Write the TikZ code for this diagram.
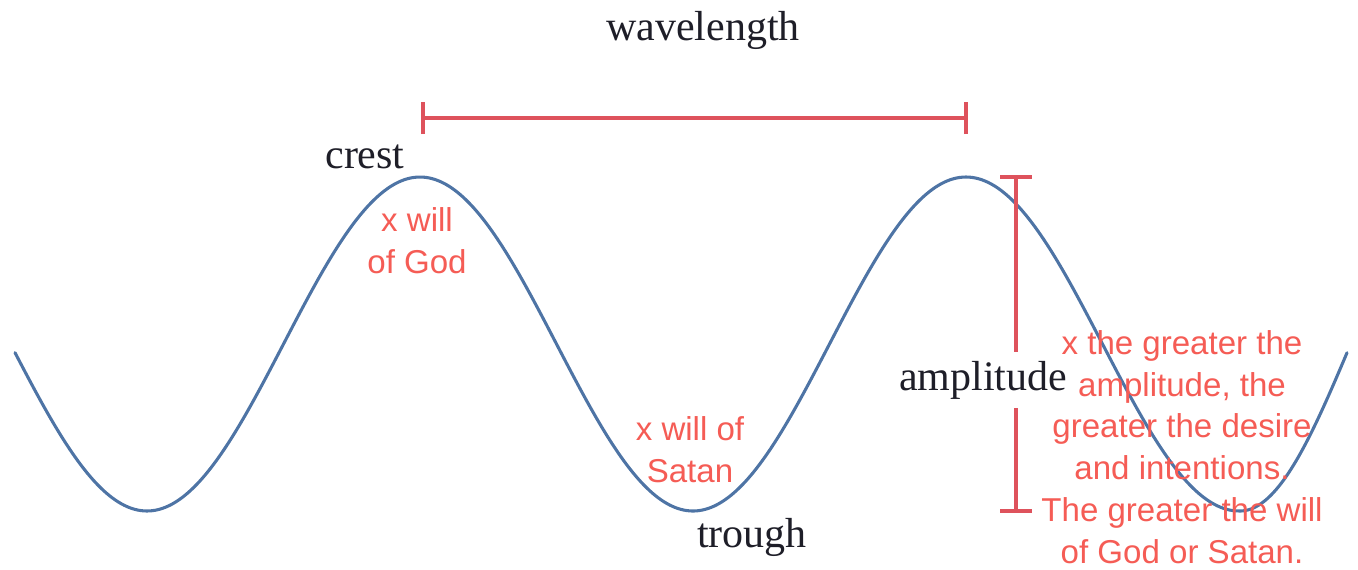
\documentclass[tikz,border=0pt]{standalone}
\usepackage{fontspec}
\setmainfont{Liberation Serif}
\newfontfamily\redfont{Liberation Sans}
\definecolor{waveblue}{RGB}{78,116,165}
\definecolor{barred}{RGB}{222,82,92}
\definecolor{notered}{RGB}{245,92,85}
\definecolor{labelink}{RGB}{30,30,40}
\begin{document}
\begin{tikzpicture}[x=0.75pt,y=-0.75pt,
  wave/.style={draw=waveblue,line width=2.3pt,line cap=round,line join=round},
  bar/.style={draw=barred,line width=2.7pt},
  blacklabel/.style={text=labelink,font=\fontsize{31.5}{36}\selectfont,inner sep=0pt},
  note/.style={text=notered,font=\redfont\fontsize{24.8}{31.3}\selectfont,align=center,inner sep=0pt}]
\useasboundingbox (0,0) rectangle (1358,569);
% wave
\draw[wave] plot[domain=15:1240,samples=220,smooth] (\x,{344-167*cos(0.659341*(\x-420))})
  -- plot[domain=1240:1347,samples=40,smooth] (\x,{344+167*cos(0.813084*(\x-1240))});
% wavelength bar
\coordinate (wlA) at (423,118);
\coordinate (wlB) at (966,118);
\draw[bar] (wlA) -- (wlB);
\draw[bar] ([yshift=-16*0.75pt]wlA) -- ([yshift=16*0.75pt]wlA);
\draw[bar] ([yshift=-16*0.75pt]wlB) -- ([yshift=16*0.75pt]wlB);
% amplitude bar
\node[blacklabel] (amp) at (983,380) {amplitude};
\coordinate (amTop) at (1016,177);
\coordinate (amBot) at (1016,511);
\coordinate (amGapT) at (1016,352);
\coordinate (amGapB) at (1016,408);
\draw[bar] (amTop) -- (amGapT);
\draw[bar] (amGapB) -- (amBot);
\draw[bar] ([xshift=-16*0.75pt]amTop) -- ([xshift=16*0.75pt]amTop);
\draw[bar] ([xshift=-16*0.75pt]amBot) -- ([xshift=16*0.75pt]amBot);
% labels
\node[blacklabel] (wl) at (703,30) {wavelength};
\node[blacklabel] (crest) at (365,157) {crest};
\node[blacklabel] (trough) at (752,537) {trough};
% notes
\node[note] (god) at (417,241) {x will\\of God};
\node[note] (satan) at (690,450) {x will of\\Satan};
\node[note] (desc) at (1182,447) {x the greater the\\amplitude, the\\greater the desire\\and intentions.\\The greater the will\\of God or Satan.};
\end{tikzpicture}
\end{document}
